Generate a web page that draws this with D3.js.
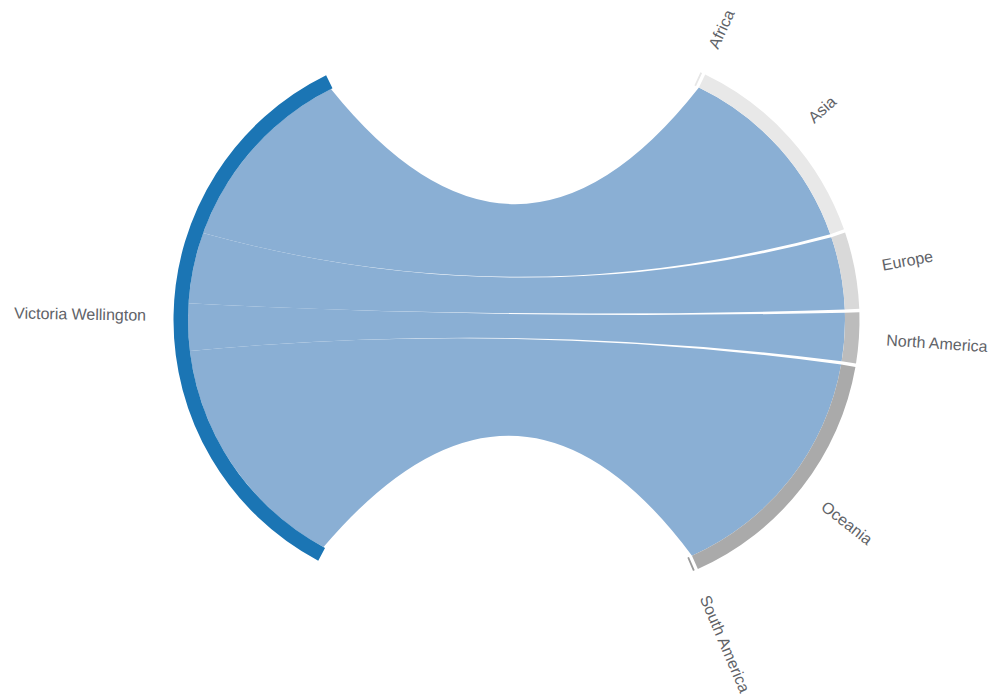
<!DOCTYPE html>
<html>
<head>
<meta charset="utf-8">
<script src="https://cdn.jsdelivr.net/npm/d3@7"></script>
<style>
  html, body { margin: 0; padding: 0; background: #fff; }
  svg { display: block; }
  text { font-family: "Liberation Sans", Arial, Helvetica, sans-serif; }
</style>
</head>
<body>
<svg id="chart" width="991" height="695"></svg>
<script>
// ---- data ----
const sourceName = "Victoria Wellington";
const destinations = ["Africa", "Asia", "Europe", "North America", "Oceania", "South America"];
const flowShare = [0.3, 34.8, 12.7, 8.4, 43.5, 0.3];   // % of flows from the source to each destination
const destColors = ["#e6e6e6", "#e8e8e8", "#d9d9d9", "#bcbcbc", "#aaaaaa", "#9a9a9a"];
const sourceColor = "#1b75b4";
const ribbonColor = "#8aafd4";

// ---- layout ----
const W = 991, H = 695;
const cx = 516.5, cy = 320, pull = 70.5;
const outerR = 272.5, innerR = 258, labelR = 300;
const deg = Math.PI / 180;
const padAngle = 0.72 * deg;

const total = d3.sum(flowShare);
const cum = [0];
flowShare.forEach((v, i) => cum.push(cum[i] + v));

// left half (source) runs from top going down (counter-clockwise)
const leftAngle = d3.scaleLinear().domain([0, total]).range([333.9 * deg, 207.96 * deg]);
// right half (destinations) runs from top going down (clockwise), with padding between groups
const rightBase = d3.scaleLinear().domain([0, total]).range([24.6 * deg, (24.6 + 128.9) * deg]);

const groups = destinations.map((name, i) => ({
  name, i, color: destColors[i], value: flowShare[i],
  lTop: leftAngle(cum[i]), lBot: leftAngle(cum[i + 1]),
  rStart: rightBase(cum[i]) + i * padAngle,
  rEnd: rightBase(cum[i + 1]) + i * padAngle
}));

const leftCx = cx - pull, rightCx = cx + pull;
const svg = d3.select("#chart");

// ribbons (hairline flows are too thin to show as ribbons)
function pt(c, a, r) { return [c + r * Math.sin(a), cy - r * Math.cos(a)]; }
function ribbonPath(g) {
  const p = d3.path();
  const a = pt(leftCx, g.lTop, innerR);
  p.moveTo(a[0], a[1]);
  p.arc(leftCx, cy, innerR, g.lTop - Math.PI / 2, g.lBot - Math.PI / 2, true);
  const b = pt(rightCx, g.rEnd, innerR);
  p.quadraticCurveTo(cx, cy, b[0], b[1]);
  p.arc(rightCx, cy, innerR, g.rEnd - Math.PI / 2, g.rStart - Math.PI / 2, true);
  p.quadraticCurveTo(cx, cy, a[0], a[1]);
  p.closePath();
  return p.toString();
}

svg.append("g").selectAll("path")
  .data(groups.filter(g => g.value >= 1))
  .join("path")
  .attr("d", ribbonPath)
  .attr("fill", ribbonColor);

// arcs
const arc = d3.arc().innerRadius(innerR).outerRadius(outerR);

svg.append("path")
  .attr("transform", `translate(${leftCx},${cy})`)
  .attr("d", arc({ startAngle: leftAngle(total), endAngle: leftAngle(0) }))
  .attr("fill", sourceColor);

svg.append("g")
  .attr("transform", `translate(${rightCx},${cy})`)
  .selectAll("path")
  .data(groups)
  .join("path")
  .attr("d", g => arc({ startAngle: g.rStart, endAngle: g.rEnd }))
  .attr("fill", g => g.color);

// labels
function labelTransform(c, a) {
  return `translate(${c},${cy}) rotate(${a / deg - 90}) translate(${labelR})` + (a > Math.PI ? " rotate(180)" : "");
}

svg.append("g").selectAll("text")
  .data(groups)
  .join("text")
  .attr("transform", g => labelTransform(rightCx, (g.rStart + g.rEnd) / 2))
  .attr("dy", "0.35em")
  .attr("font-size", 16)
  .attr("fill", "#5f6368")
  .text(g => g.name);

const lMid = (leftAngle(0) + leftAngle(total)) / 2;
svg.append("text")
  .attr("transform", labelTransform(leftCx, lMid))
  .attr("dy", "0.35em")
  .attr("text-anchor", "end")
  .attr("font-size", 16)
  .attr("fill", "#5f6368")
  .text(sourceName);
</script>
</body>
</html>
